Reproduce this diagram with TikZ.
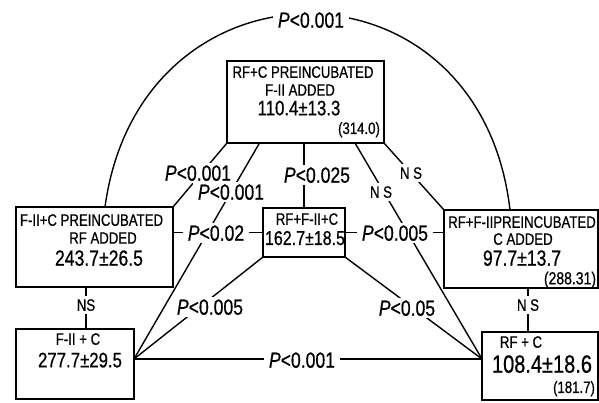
\documentclass[tikz,border=0pt]{standalone}
\usepackage{fontspec}
\setmainfont{Liberation Sans}[FakeStretch=0.8, FakeBold=0.6]
\begin{document}
\begin{tikzpicture}[x=1pt,y=-1pt,
  box/.style={draw, line width=2.2pt, inner sep=0pt, outer sep=0pt},
  conn/.style={line width=1.4pt},
  txt/.style={inner sep=0pt, text depth=0pt},
  lab/.style={fill=white, inner xsep=5pt, inner ysep=2pt, text depth=0pt, font=\fontsize{22}{24}\selectfont},
  nslab/.style={fill=white, inner xsep=3pt, inner ysep=3pt, text depth=0pt, font=\fontsize{16.5}{18}\selectfont},
  fa/.style={txt, font=\fontsize{16.5}{18}\selectfont},
  fn/.style={txt, font=\fontsize{#1}{#1}\selectfont},
]
\useasboundingbox (0,0) rectangle (599,402);
\fill[white] (0,0) rectangle (599,402);

% boxes
\node[box, minimum width=157pt, minimum height=82pt] (top) at (305.5,102) {};
\node[box, minimum width=157pt, minimum height=80pt] (lb) at (94.5,247) {};
\node[box, minimum width=82pt, minimum height=49pt] (cb) at (304,232.5) {};
\node[box, minimum width=154pt, minimum height=78pt] (rb) at (521,249) {};
\node[box, minimum width=118pt, minimum height=70pt] (bl) at (75,364) {};
\node[box, minimum width=116pt, minimum height=68pt] (br) at (540,366) {};

\coordinate (blc) at ([yshift=5pt]bl.east);
\coordinate (brc) at ([yshift=7pt]br.west);
\coordinate (lv) at ([xshift=70pt]lb.south west);
\coordinate (rv) at ([xshift=84pt]rb.south west);
\coordinate (arcA) at ([xshift=10.5pt]lb.north);
\coordinate (arcB) at ([xshift=-11pt]rb.north);
\coordinate (tA) at ([xshift=32.5pt]top.south west);
\coordinate (tB) at ([xshift=-29pt]top.south east);

% connectors
\draw[conn] (arcA) .. controls (140,-51) and (480,-51) .. (arcB);
\draw[conn] (top.south west) -- (lb.north east);
\draw[conn] (tA) -- (blc);
\draw[conn] (top.south -| cb.north) -- (cb.north);
\draw[conn] (tB) -- (brc);
\draw[conn] (top.south east) -- (rb.north west);
\draw[conn] (lb.east |- cb.west) -- (cb.west);
\draw[conn] (cb.east) -- (rb.west |- cb.east);
\draw[conn] (cb.south west) -- (blc);
\draw[conn] (cb.south east) -- (brc);
\draw[conn] (blc) -- (brc);
\draw[conn] (lv) -- (lv |- bl.north);
\draw[conn] (rv) -- (rv |- br.north);

% connector labels
\node[lab] (q0) at (311,20) {\textit{P}<0.001};
\node[lab] (q1) at (198,173) {\textit{P}<0.001};
\node[lab] (q2) at (231,192) {\textit{P}<0.001};
\node[lab] (q3) at (317,175) {\textit{P}<0.025};
\node[nslab] (q4) at (381,192) {N S};
\node[nslab] (q5) at (411,173) {N S};
\node[lab] (q6) at (216,233) {\textit{P}<0.02};
\node[lab] (q7) at (395,233) {\textit{P}<0.005};
\node[lab] (q8) at (210,307) {\textit{P}<0.005};
\node[lab] (q9) at (407,308) {\textit{P}<0.05};
\node[lab] (q10) at (302,360) {\textit{P}<0.001};
\node[nslab] (q11) at (86,305) {NS};
\node[nslab] (q12) at (528,305) {N S};

% box texts
\node[fa] (t1) at (303,72) {RF+C PREINCUBATED};
\node[fa] (t2) at (300,90) {F-II ADDED};
\node[fn=21] (t3) at (299,108) {110.4±13.3};
\node[fn=16.5] (t4) at (359,128) {(314.0)};

\node[fa] (l1) at (91.5,220) {F-II+C PREINCUBATED};
\node[fa] (l2) at (103,238) {RF ADDED};
\node[fn=22] (l3) at (99,258) {243.7±26.5};

\node[fa] (c1) at (307,219) {RF+F-II+C};
\node[fn=20] (c2) at (305,238) {162.7±18.5};

\node[fa] (r1) at (522,222) {RF+F-IIPREINCUBATED};
\node[fa] (r2) at (523,239) {C ADDED};
\node[fn=22] (r3) at (522,258) {97.7±13.7};
\node[fn=17.5] (r4) at (570,278) {(288.31)};

\node[fa] (b1) at (78,339) {F-II + C};
\node[fn=21] (b2) at (80,360) {277.7±29.5};

\node[fa] (d1) at (521,342) {RF + C};
\node[fn=25] (d2) at (542,364) {108.4±18.6};
\node[fn=16.5] (d3) at (574,387) {(181.7)};
\end{tikzpicture}
\end{document}
